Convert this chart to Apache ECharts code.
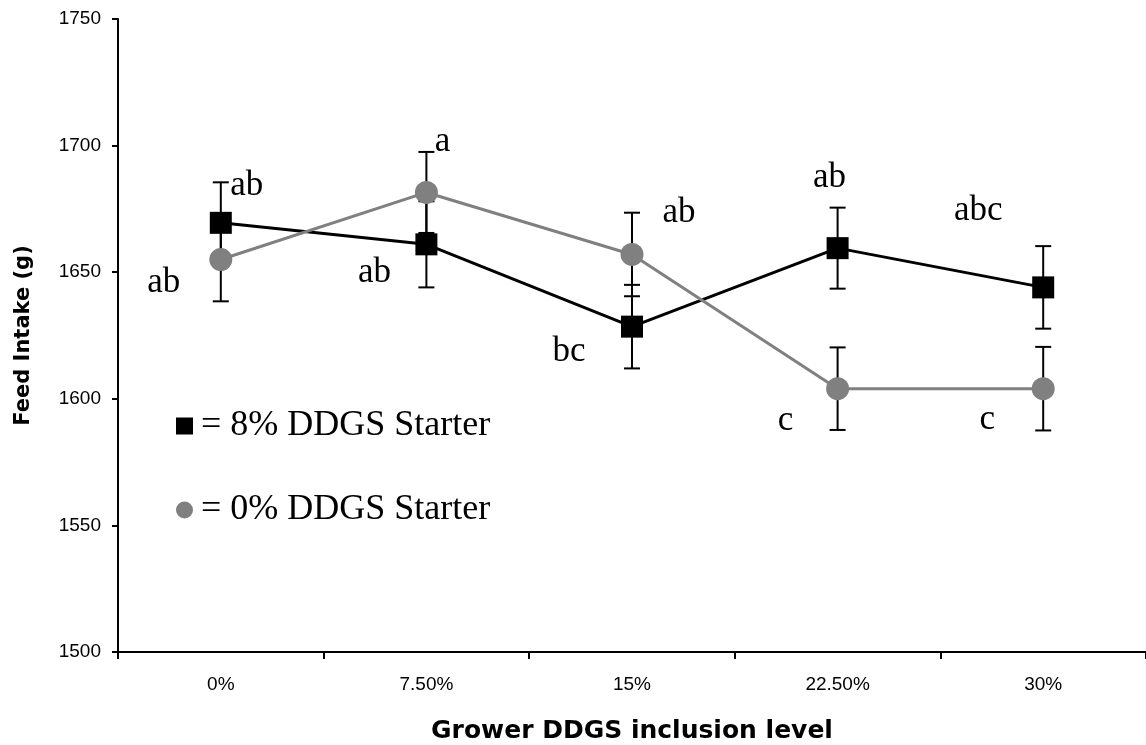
<!DOCTYPE html>
<html>
<head>
<meta charset="utf-8">
<script src="https://cdn.jsdelivr.net/npm/echarts@6/dist/echarts.min.js"></script>
<style>
  html, body { margin: 0; padding: 0; background: #fff; }
  #chart { width: 1146px; height: 745px; }
</style>
</head>
<body>
<div id="chart"></div>
<script>
// ===== data =====
const levels = ['0%', '7.50%', '15%', '22.50%', '30%'];
const yTicks = [1500, 1550, 1600, 1650, 1700, 1750];

const starter8Mean = [1669.5, 1661, 1628.5, 1659.5, 1644];
const starter8Se = [16, 17, 16.5, 16, 16.3];
const starter8Letters = ['ab', 'ab', 'bc', 'ab', 'abc'];

const starter0Mean = [1655, 1681.5, 1657, 1604, 1604];
const starter0Se = [16.5, 16, 16.5, 16.3, 16.5];
const starter0Letters = ['ab', 'a', 'ab', 'c', 'c'];

// where each letter sits relative to its point (pixels)
const starter8LetterPos = [[26, -37], [-52, 28], [-63, 25], [-8, -70], [-65, -77]];
const starter0LetterPos = [[-57, 23], [16, -51], [47, -42], [-52, 32], [-56, 31]];

const chart = echarts.init(document.getElementById('chart'));

function errData(mean, se) {
    return mean.map((m, i) => [i, m - se[i], m + se[i]]);
}

function renderErr(params, api) {
    const top = api.coord([api.value(0), api.value(2)]);
    const bot = api.coord([api.value(0), api.value(1)]);
    const cap = 8;
    const st = { stroke: '#000', lineWidth: 2 };
    return {
        type: 'group',
        children: [
            { type: 'line', shape: { x1: top[0], y1: top[1], x2: bot[0], y2: bot[1] }, style: st },
            { type: 'line', shape: { x1: top[0] - cap, y1: top[1], x2: top[0] + cap, y2: top[1] }, style: st },
            { type: 'line', shape: { x1: bot[0] - cap, y1: bot[1], x2: bot[0] + cap, y2: bot[1] }, style: st }
        ]
    };
}

function letterRenderer(letters, pos) {
    return function (params, api) {
        const p = api.coord([api.value(0), api.value(1)]);
        const off = pos[params.dataIndex];
        return {
            type: 'text',
            x: p[0] + off[0],
            y: p[1] + off[1],
            style: {
                text: letters[params.dataIndex],
                font: '35px "Liberation Serif", "Times New Roman", serif',
                fill: '#000',
                align: 'center',
                verticalAlign: 'middle'
            }
        };
    };
}

chart.setOption({
    backgroundColor: '#fff',
    animation: false,
    grid: { left: 118, right: 0, top: 19, bottom: 93, containLabel: false, outerBoundsMode: 'none' },
    legend: {
        orient: 'vertical',
        left: 171,
        top: 401,
        itemWidth: 17,
        itemHeight: 17,
        itemGap: 44,
        selectedMode: false,
        formatter: name => '= ' + name,
        textStyle: {
            fontFamily: '"Liberation Serif", "Times New Roman", serif',
            fontSize: 36,
            lineHeight: 40,
            color: '#000',
            padding: [0, 0, 0, 3]
        },
        data: [
            { name: '8% DDGS Starter', icon: 'rect', itemStyle: { borderWidth: 0 } },
            { name: '0% DDGS Starter', icon: 'circle' }
        ]
    },
    xAxis: {
        type: 'category',
        data: levels,
        boundaryGap: true,
        name: 'Grower DDGS inclusion level',
        nameLocation: 'middle',
        nameGap: 67,
        nameTextStyle: { fontFamily: '"DejaVu Sans", sans-serif', fontWeight: 'bold', fontSize: 25, color: '#000' },
        axisLine: { lineStyle: { color: '#000', width: 2 } },
        axisTick: { show: true, length: 7, lineStyle: { color: '#000', width: 2 } },
        axisLabel: { margin: 23, fontFamily: '"Liberation Sans", Arial, sans-serif', fontSize: 19, color: '#000' },
        splitLine: { show: false }
    },
    yAxis: {
        type: 'value',
        min: yTicks[0],
        max: yTicks[yTicks.length - 1],
        interval: 50,
        name: 'Feed Intake (g)',
        nameLocation: 'middle',
        nameGap: 84,
        nameTextStyle: { fontFamily: '"DejaVu Sans", sans-serif', fontWeight: 'bold', fontSize: 21, color: '#000' },
        axisLine: { show: true, lineStyle: { color: '#000', width: 2 } },
        axisTick: { show: true, length: 6, lineStyle: { color: '#000', width: 2 } },
        axisLabel: {
            margin: 17,
            fontFamily: '"Liberation Sans", Arial, sans-serif',
            fontSize: 19,
            color: '#000',
            formatter: v => String(v)
        },
        splitLine: { show: false }
    },
    series: [
        {
            type: 'custom',
            name: 'err8',
            renderItem: renderErr,
            data: errData(starter8Mean, starter8Se),
            z: 1
        },
        {
            type: 'custom',
            name: 'err0',
            renderItem: renderErr,
            data: errData(starter0Mean, starter0Se),
            z: 1
        },
        {
            type: 'line',
            name: '8% DDGS Starter',
            data: starter8Mean,
            symbol: 'rect',
            symbolSize: 22,
            itemStyle: { color: '#000' },
            lineStyle: { color: '#000', width: 3 },
            z: 2
        },
        {
            type: 'line',
            name: '0% DDGS Starter',
            data: starter0Mean,
            symbol: 'circle',
            symbolSize: 23,
            itemStyle: { color: '#808080' },
            lineStyle: { color: '#808080', width: 3 },
            z: 3
        },
        {
            type: 'custom',
            renderItem: letterRenderer(starter8Letters, starter8LetterPos),
            data: starter8Mean.map((m, i) => [i, m]),
            z: 4
        },
        {
            type: 'custom',
            renderItem: letterRenderer(starter0Letters, starter0LetterPos),
            data: starter0Mean.map((m, i) => [i, m]),
            z: 4
        }
    ]
});
</script>
</body>
</html>
